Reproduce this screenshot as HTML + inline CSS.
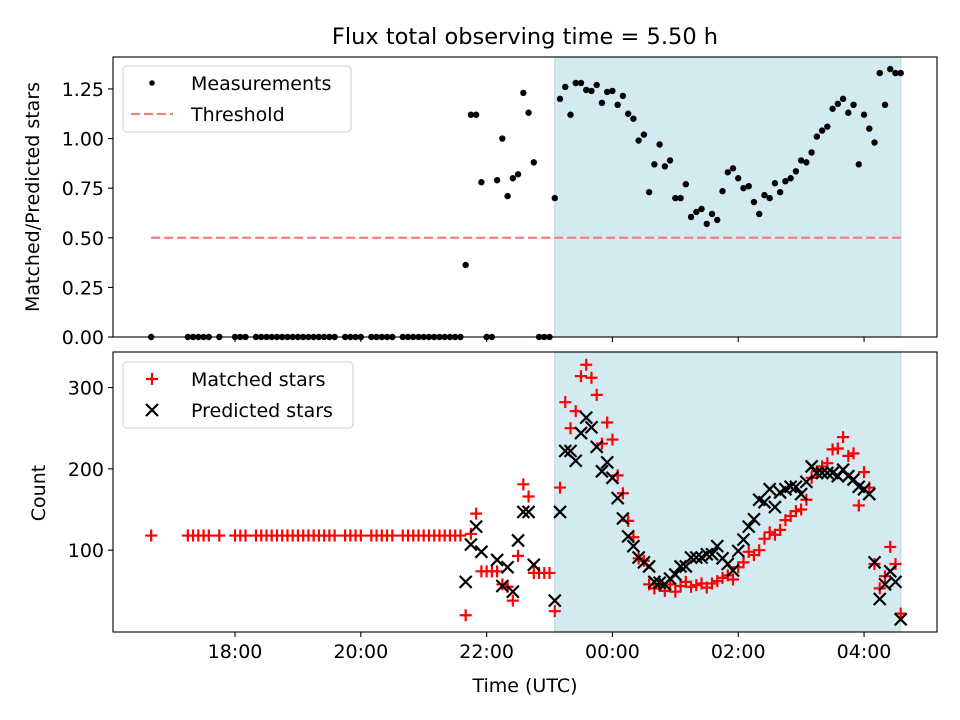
<!DOCTYPE html>
<html><head><meta charset="utf-8">
<style>
html,body{margin:0;padding:0;background:#fff;}
svg{display:block;font-family:"DejaVu Sans","Liberation Sans",sans-serif;}
</style></head>
<body>
<svg id="chart" width="960" height="720" viewBox="0 0 960 720" xmlns="http://www.w3.org/2000/svg">
<rect x="0" y="0" width="960" height="720" fill="#fff"/>
<text x="525" y="44" font-size="22.5" text-anchor="middle">Flux total observing time = 5.50 h</text>
<g id="top"></g>
<g id="bot"></g>
<text x="525" y="692" font-size="19" text-anchor="middle">Time (UTC)</text>
<text transform="translate(39,197) rotate(-90)" font-size="19" text-anchor="middle">Matched/Predicted stars</text>
<text transform="translate(45,493) rotate(-90)" font-size="19" text-anchor="middle">Count</text>
</svg>
<script>
const times = ["16:40","17:15","17:20","17:25","17:30","17:35","17:45","18:00","18:05","18:10","18:20","18:25","18:30","18:35","18:40","18:45","18:50","18:55","19:00","19:05","19:10","19:15","19:20","19:25","19:30","19:35","19:45","19:50","19:55","20:00","20:10","20:15","20:20","20:25","20:30","20:40","20:45","20:50","20:55","21:00","21:05","21:10","21:15","21:20","21:25","21:30","21:35",
"21:40","21:45","21:50","21:55","22:00","22:05","22:10","22:15","22:20","22:25","22:30","22:35","22:40","22:45","22:50","22:55","23:00","23:05","23:10","23:15","23:20","23:25","23:30","23:35","23:40","23:45","23:50","23:55",
"00:00","00:05","00:10","00:15","00:20","00:25","00:30","00:35","00:40","00:45","00:50","00:55","01:00","01:05","01:10","01:15","01:20","01:25","01:30","01:35","01:40","01:45","01:50","01:55",
"02:00","02:05","02:10","02:15","02:20","02:25","02:30","02:35","02:40","02:45","02:50","02:55","03:00","03:05","03:10","03:15","03:20","03:25","03:30","03:35","03:40","03:45","03:50","03:55",
"04:00","04:05","04:10","04:15","04:20","04:25","04:30","04:35"];
const ratio = [0,0,0,0,0,0,0,0,0,0,0,0,0,0,0,0,0,0,0,0,0,0,0,0,0,0,0,0,0,0,0,0,0,0,0,0,0,0,0,0,0,0,0,0,0,0,0,
0.363,1.12,1.12,0.78,0,0,0.79,1.0,0.71,0.80,0.82,1.23,1.13,0.88,0,0,0,0.70,1.20,1.26,1.12,1.28,1.28,1.245,1.24,1.27,1.18,1.235,
1.24,1.17,1.215,1.125,1.10,0.99,1.02,0.73,0.87,0.97,0.86,0.89,0.70,0.70,0.77,0.605,0.63,0.645,0.57,0.62,0.59,0.735,0.83,0.85,
0.80,0.75,0.76,0.68,0.62,0.715,0.70,0.775,0.73,0.785,0.80,0.835,0.89,0.88,0.93,1.01,1.04,1.06,1.15,1.175,1.20,1.13,1.17,0.87,
1.12,1.05,0.98,1.33,1.17,1.35,1.33,1.33];
const matched = [118,118,118,118,118,118,118,118,118,118,118,118,118,118,118,118,118,118,118,118,118,118,118,118,118,118,118,118,118,118,118,118,118,118,118,118,118,118,118,118,118,118,118,118,118,118,118,
20,120,145,74,74,74,74,58,55,38,93,181,166,72,72,72,72,25,177,282,250,271,314,328,312,291,231,257,
236,192,170,136,116,90,87,58,53,58,50,58,49,56,61,55,57,59,54,59,62,66,69,64,
79,85,98,94,100,114,122,119,125,137,142,148,150,162,189,197,203,207,224,225,239,216,219,155,
196,177,83,53,68,104,83,22];
const predicted = [null,null,null,null,null,null,null,null,null,null,null,null,null,null,null,null,null,null,null,null,null,null,null,null,null,null,null,null,null,null,null,null,null,null,null,null,null,null,null,null,null,null,null,null,null,null,null,
61,107,129,98,null,null,88,56,79,49,112,147,147,82,null,null,null,38,147,222,222,210,244,263,251,227,197,208,
189,164,139,117,105,91,85,80,61,60,58,65,70,80,80,91,91,91,95,95,105,90,83,75,
99,113,129,138,162,159,175,153,171,175,178,178,169,184,203,195,195,195,195,191,199,191,187,178,
175,169,85,40,58,74,61,15];
const threshold = 0.5;
const shadeStart = "23:05", shadeEnd = "04:35";
const xTickLabels = ["18:00","20:00","22:00","00:00","02:00","04:00"];
const topYTicks = [0,0.25,0.5,0.75,1.0,1.25];
const botYTicks = [100,200,300];

const NS="http://www.w3.org/2000/svg";
function hrs(t){const p=t.split(":");let h=+p[0]+(+p[1])/60;if(h<12)h+=24;return h;}
const L=113,R=937;
const xMin=16.06,xMax=29.16;
function X(h){return L+(h-xMin)/(xMax-xMin)*(R-L);}
const TT=57,TB=337,BT=352,BB=632;
function YT(v){return TB-(v-0)/(1.411)*(TB-TT);}
function YB(v){return BB-(v-(-0.6))/(343.7+0.6)*(BB-BT);}
function mk(tag,attrs,parent){const e=document.createElementNS(NS,tag);for(const k in attrs)e.setAttribute(k,attrs[k]);parent.appendChild(e);return e;}

function axes(g,top,bottom,yt,yfun,fmt,showX,prefix){
  const sx=X(hrs(shadeStart)),ex=X(hrs(shadeEnd));
  const sh=mk('rect',{x:sx,y:top,width:ex-sx,height:bottom-top,fill:'#d4eaf1',stroke:'#bcdbe6','stroke-width':1.2},g);
  
  
  xTickLabels.forEach(t=>{
    const x=X(hrs(t));
    const tk=mk('line',{x1:x,x2:x,y1:bottom,y2:bottom+5,stroke:'#000','stroke-width':1.1},g);
    
    
    if(showX){
      const tx=mk('text',{x:x,y:bottom+26,'font-size':19,'text-anchor':'middle'},g);
      tx.textContent=t;
      
      
    }
  });
  yt.forEach(v=>{
    const y=yfun(v);
    const tk=mk('line',{x1:L-5,x2:L,y1:y,y2:y,stroke:'#000','stroke-width':1.1},g);
    
    
    const tx=mk('text',{x:L-9,y:y+7,'font-size':19,'text-anchor':'end'},g);
    tx.textContent=fmt(v);
    
    
  });
}
function frame(g,top,bottom,prefix){
  const f=mk('rect',{x:L,y:top,width:R-L,height:bottom-top,fill:'none',stroke:'#000','stroke-width':1.1},g);
  
  
}

// top panel
const gt=document.getElementById('top');
axes(gt,TT,TB,topYTicks,YT,v=>v.toFixed(2),false,'top');
const th=mk('line',{x1:X(hrs(times[0])),x2:X(hrs(times[times.length-1])),y1:YT(threshold),y2:YT(threshold),stroke:'#f08080','stroke-width':2.2,'stroke-dasharray':'9,4'},gt);


times.forEach((t,i)=>{
  const c=mk('circle',{cx:X(hrs(t)),cy:YT(ratio[i]),r:3.2,fill:'#000'},gt);
  
  
});
frame(gt,TT,TB,'top');

// bottom panel
const gb=document.getElementById('bot');
axes(gb,BT,BB,botYTicks,YB,v=>String(v),true,'bottom');
times.forEach((t,i)=>{
  if(matched[i]==null)return;
  const x=X(hrs(t)),y=YB(matched[i]);
  const p=mk('path',{d:`M${x-6},${y}H${x+6}M${x},${y-6}V${y+6}`,stroke:'#ff0000','stroke-width':2.2,fill:'none'},gb);
  
  
});
times.forEach((t,i)=>{
  if(predicted[i]==null)return;
  const x=X(hrs(t)),y=YB(predicted[i]);
  const p=mk('path',{d:`M${x-6},${y-6}L${x+6},${y+6}M${x-6},${y+6}L${x+6},${y-6}`,stroke:'#000','stroke-width':2.2,fill:'none'},gb);
  
  
});
frame(gb,BT,BB,'bottom');

// legends
function legend(g,x,y,w,h,entries,prefix){
  const lg=mk('g',{},g);
  
  
  mk('rect',{x:x,y:y,width:w,height:h,rx:4,fill:'#fff','fill-opacity':0.8,stroke:'#d0d0d0','stroke-width':1.1},lg);
  entries.forEach((e,i)=>{
    const cy=y+17+i*31;
    const mx=x+29;
    let m;
    if(e.k==='dot') m=mk('circle',{cx:mx,cy:cy,r:2.8,fill:'#000'},lg);
    else if(e.k==='dash') m=mk('line',{x1:mx-21,x2:mx+21,y1:cy,y2:cy,stroke:'#f08080','stroke-width':2.2,'stroke-dasharray':'9,4'},lg);
    else if(e.k==='plus') m=mk('path',{d:`M${mx-6},${cy}H${mx+6}M${mx},${cy-6}V${cy+6}`,stroke:'#f00','stroke-width':2.2},lg);
    else m=mk('path',{d:`M${mx-6},${cy-6}L${mx+6},${cy+6}M${mx-6},${cy+6}L${mx+6},${cy-6}`,stroke:'#000','stroke-width':2.2},lg);
    
    
    const tx=mk('text',{x:x+68,y:cy+7,'font-size':19},lg);
    tx.textContent=e.t;
    
    
  });
}
legend(gt,123,66,228,66,[{k:'dot',t:'Measurements'},{k:'dash',t:'Threshold'}],'top');
legend(gb,123,362,230,66,[{k:'plus',t:'Matched stars'},{k:'x',t:'Predicted stars'}],'bottom');
</script>
</body></html>
